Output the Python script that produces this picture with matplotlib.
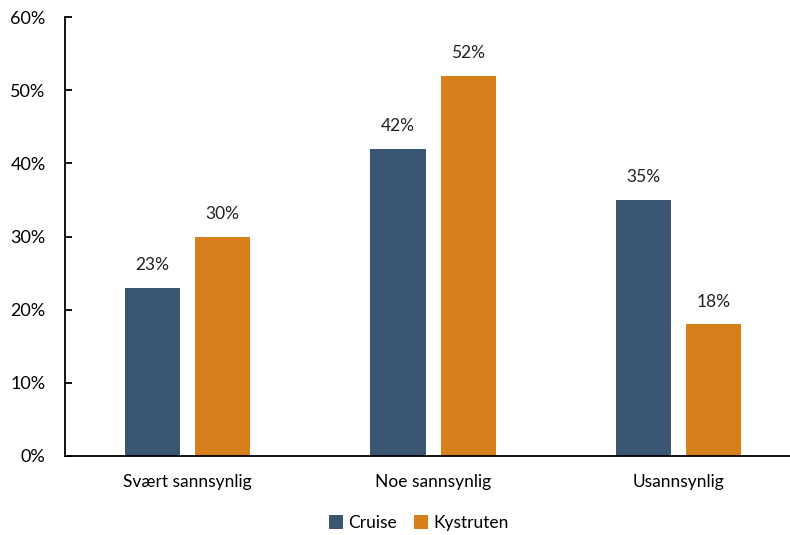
import matplotlib
matplotlib.use("Agg")
import matplotlib.pyplot as plt
import numpy as np
from matplotlib.ticker import PercentFormatter

plt.rcParams["font.family"] = ["Lato", "DejaVu Sans"]

categories = ["Svært sannsynlig", "Noe sannsynlig", "Usannsynlig"]
series_names = ["Cruise", "Kystruten"]
cruise = [23, 42, 35]
kystruten = [30, 52, 18]
colors = ["#3A5673", "#D77F1A"]

fig = plt.figure(figsize=(7.9, 5.35), dpi=100)
ax = fig.add_axes([65 / 790, 79 / 535, 1 - 65 / 790, 439 / 535])

x = np.arange(len(categories))
width = 0.225
offset = 0.143
for vals, name, col, sign in zip([cruise, kystruten], series_names, colors, [-1, 1]):
    bars = ax.bar(x + sign * offset, vals, width, color=col, label=name)
    for b, v in zip(bars, vals):
        ax.text(b.get_x() + b.get_width() / 2, v + 2.0, f"{v}%",
                ha="center", va="bottom", fontsize=12.5, color="#222222")

ax.set_ylim(0, 60)
ax.set_xlim(-0.5, 2.455)
ax.set_yticks(range(0, 61, 10))
ax.yaxis.set_major_formatter(PercentFormatter(decimals=0))
ax.set_xticks(x)
ax.set_xticklabels(categories)
ax.tick_params(axis="x", length=0, pad=13, labelsize=12.5)
ax.tick_params(axis="y", direction="in", length=5, width=1.3, pad=14, labelsize=13)
for side in ["top", "right"]:
    ax.spines[side].set_visible(False)
ax.spines["left"].set_linewidth(1.3)
ax.spines["bottom"].set_linewidth(1.3)

# legend sits just above the bottom edge
fig.legend(loc="center", bbox_to_anchor=(0.53, 12 / 535),
           ncol=2, frameon=False, fontsize=12.5, handlelength=0.8,
           handleheight=0.8, handletextpad=0.3, columnspacing=1.0,
           borderpad=0.1)

fig.savefig("out.png", dpi=100)
